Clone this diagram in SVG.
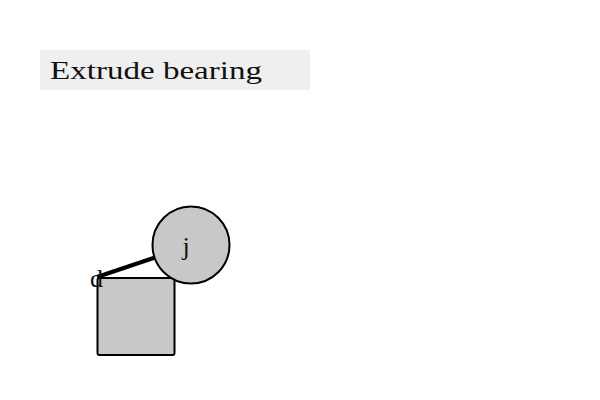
<svg xmlns="http://www.w3.org/2000/svg" width="600" height="400" viewBox="0 0 600 400">
<style>
.t{font-family:"Liberation Serif","Times New Roman",serif;fill:#111;}
.shape{fill:#c8c8c8;stroke:#000;stroke-width:2;}
</style>
<rect width="600" height="400" fill="#fff"/>
<g id="title">
<rect x="40" y="50" width="270" height="40" fill="#efefef"/>
<text class="t" x="50" y="78.5" font-size="26" textLength="212" lengthAdjust="spacingAndGlyphs">Extrude bearing</text>
</g>
<g id="connectors">
<line x1="97" y1="277" x2="155" y2="257.5" stroke="#000" stroke-width="4"/>
</g>
<g id="node-d">
<rect class="shape" x="97.5" y="278" width="77" height="77" rx="2"/>
<text class="t" x="90" y="287" font-size="26">d</text>
</g>
<g id="node-j">
<circle class="shape" cx="191" cy="245" r="38.5"/>
<text class="t" x="186" y="255" font-size="26" text-anchor="middle">j</text>
</g>
</svg>
